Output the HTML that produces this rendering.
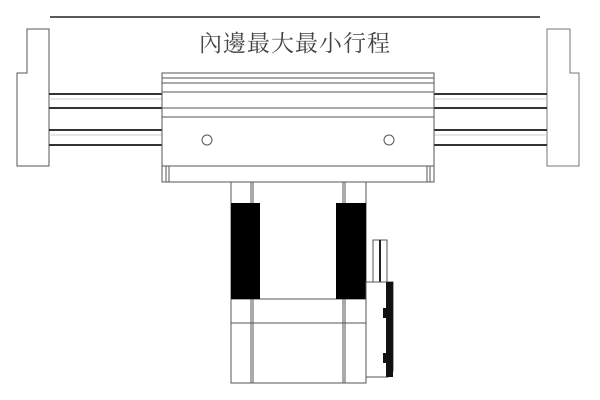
<!DOCTYPE html>
<html><head><meta charset="utf-8"><style>body{margin:0;background:#fff}svg{display:block}</style></head><body>
<svg width="600" height="400" viewBox="0 0 600 400" xmlns="http://www.w3.org/2000/svg">
<g fill="none" stroke="#555" stroke-width="1">
<line x1="50" y1="17" x2="540" y2="17" stroke="#222" stroke-width="1.5"/>
<text x="295" y="51" font-family="Liberation Serif, Noto Serif CJK SC, serif" font-size="23" letter-spacing="1" fill="#444" stroke="none" text-anchor="middle">內邊最大最小行程</text>
<!-- left end block -->
<path d="M27 29 H49 V166 H17 V73 H27 Z" fill="#fff"/>
<!-- right end block -->
<path d="M547 29 H570 V73 H579 V166 H547 Z" fill="#fff" stroke="#777"/>
<!-- rails -->
<g stroke="#333" stroke-width="2">
<line x1="49" y1="94" x2="162" y2="94"/><line x1="49" y1="108" x2="162" y2="108"/>
<line x1="49" y1="130" x2="162" y2="130"/><line x1="49" y1="145" x2="162" y2="145"/>
<line x1="434" y1="94" x2="547" y2="94"/><line x1="434" y1="108" x2="547" y2="108"/>
<line x1="434" y1="130" x2="547" y2="130"/><line x1="434" y1="145" x2="547" y2="145"/>
</g>
<g stroke="#ccc" stroke-width="1">
<line x1="49" y1="99" x2="162" y2="99"/><line x1="49" y1="135" x2="162" y2="135"/>
<line x1="434" y1="99" x2="547" y2="99"/><line x1="434" y1="135" x2="547" y2="135"/>
</g>
<!-- carriage -->
<rect x="162" y="73" width="272" height="93" fill="#fff"/>
<line x1="162" y1="78" x2="434" y2="78"/><line x1="162" y1="83" x2="434" y2="83"/>
<line x1="162" y1="92" x2="434" y2="92"/><line x1="162" y1="108" x2="434" y2="108"/>
<line x1="162" y1="117" x2="434" y2="117"/>
<circle cx="207" cy="140" r="5"/><circle cx="389" cy="140" r="5"/>
<rect x="162" y="166" width="272" height="16"/>
<line x1="166" y1="166" x2="166" y2="182"/><line x1="169" y1="166" x2="169" y2="182"/>
<line x1="427" y1="166" x2="427" y2="182"/><line x1="430" y1="166" x2="430" y2="182"/>
<!-- motor -->
<rect x="231" y="182" width="135" height="201" fill="#fff"/>
<line x1="251" y1="182" x2="251" y2="383"/><line x1="253" y1="182" x2="253" y2="383"/>
<line x1="343" y1="182" x2="343" y2="383"/><line x1="345" y1="182" x2="345" y2="383"/>
<line x1="231" y1="299" x2="366" y2="299"/><line x1="231" y1="323" x2="366" y2="323"/>
<rect x="231" y="203" width="29" height="96" fill="#000" stroke="none"/>
<rect x="336" y="203" width="30" height="96" fill="#000" stroke="none"/>
<!-- connector -->
<rect x="373" y="240" width="14" height="42" fill="#fff"/>
<line x1="380" y1="240" x2="380" y2="282" stroke="#222" stroke-width="2"/>
<path d="M366 282 H393 V371 L388 377 H366 Z" fill="#fff"/>
<rect x="386" y="282" width="7" height="95" fill="#111" stroke="none"/>
<rect x="383" y="308" width="8" height="10" fill="#111" stroke="none"/>
<rect x="383" y="353" width="8" height="10" fill="#111" stroke="none"/>
</g>
</svg>
</body></html>
